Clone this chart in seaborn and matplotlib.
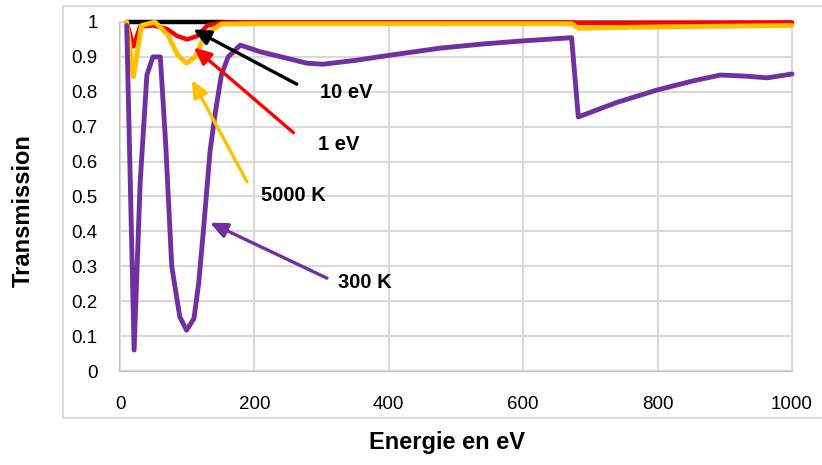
import seaborn as sns
import numpy as np
import matplotlib.pyplot as plt
from matplotlib.patches import Rectangle

# data
x_300K = [10, 21, 30, 40, 49, 60, 68, 77, 89, 99, 110, 117, 124, 134, 141, 151, 161, 179, 208, 240, 278, 302, 350, 402, 476, 540, 600, 672, 682, 740, 799, 850, 893, 930, 963, 1000]
y_300K = [0.99, 0.06, 0.54, 0.848, 0.9, 0.9, 0.65, 0.3, 0.155, 0.117, 0.15, 0.25, 0.4, 0.63, 0.73, 0.85, 0.9, 0.934, 0.915, 0.9, 0.882, 0.879, 0.89, 0.905, 0.925, 0.937, 0.946, 0.955, 0.728, 0.77, 0.805, 0.83, 0.848, 0.845, 0.84, 0.851]

x_5000K = [10, 20, 32, 52, 71, 86, 99, 112, 126, 151, 200, 400, 672, 682, 800, 1000]
y_5000K = [1.0, 0.843, 0.99, 1.0, 0.963, 0.905, 0.882, 0.9, 0.963, 0.994, 0.995, 0.995, 0.995, 0.982, 0.986, 0.99]

x_1eV = [10, 20, 30, 50, 70, 85, 100, 115, 130, 150, 200, 672, 682, 1000]
y_1eV = [1.0, 0.93, 0.987, 0.99, 0.98, 0.96, 0.95, 0.96, 0.99, 0.998, 0.999, 0.999, 0.997, 0.999]

x_10eV = [10, 150, 200, 672, 682, 1000]
y_10eV = [1.0, 1.0, 0.997, 0.997, 0.998, 0.997]

xticks = [0, 200, 400, 600, 800, 1000]
yticks = [0, 0.1, 0.2, 0.3, 0.4, 0.5, 0.6, 0.7, 0.8, 0.9, 1]
ytick_labels = ["0", "0.1", "0.2", "0.3", "0.4", "0.5", "0.6", "0.7", "0.8", "0.9", "1"]

sns.set_style("white")
plt.rcParams['font.family'] = ['Liberation Sans', 'DejaVu Sans']
plt.rcParams['text.color'] = 'black'
plt.rcParams['xtick.color'] = 'black'
plt.rcParams['ytick.color'] = 'black'

grid_col = "#D9D9D9"
purple = "#7030A0"
yellow = "#FFC000"

fig = plt.figure(figsize=(8.22, 4.65), dpi=100)
ax = fig.add_axes([120/822, 94/465, 672/822, 349/465])

# outer chart border
fig.patches.append(Rectangle((63/822, 47/465), 1.0, 412/465, transform=fig.transFigure,
                             fill=False, edgecolor=grid_col, lw=1.5, clip_on=False))

sns.lineplot(x=x_10eV, y=y_10eV, color="black", lw=3.2, ax=ax)
sns.lineplot(x=x_1eV, y=y_1eV, color="red", lw=3.2, ax=ax)
sns.lineplot(x=x_5000K, y=y_5000K, color=yellow, lw=3.5, ax=ax)
sns.lineplot(x=x_300K, y=y_300K, color=purple, lw=3.5, ax=ax)
for ln in ax.lines:
    ln.set_clip_on(False)
    ln.set_solid_joinstyle("round")

ax.set_xlim(0, 1000)
ax.set_ylim(0, 1)
ax.set_xticks(xticks)
ax.set_yticks(yticks)
ax.set_yticklabels(ytick_labels)
ax.tick_params(axis="x", length=0, pad=18, labelsize=13.5, labelcolor="black")
ax.tick_params(axis="y", length=0, pad=16, labelsize=13.5, labelcolor="black")
ax.grid(True, color=grid_col, lw=1.5)
ax.set_axisbelow(True)
for s in ax.spines.values():
    s.set_color(grid_col)
    s.set_linewidth(1.5)
    s.set_zorder(0.5)
ax.spines["left"].set_color("#BFBFBF")
ax.spines["bottom"].set_color("#BFBFBF")

# arrows and labels
arrows = [
    ((109, 0.979), (263, 0.822), "black", "10 eV", (336, 0.797)),
    ((110, 0.927), (258, 0.683), "red", "1 eV", (325, 0.648)),
    ((107, 0.834), (189, 0.542), yellow, "5000 K", (258, 0.504)),
    ((134, 0.425), (308, 0.266), purple, "300 K", (365, 0.255)),
]
for tip, tail, col, lab, pos in arrows:
    ax.annotate("", xy=tip, xytext=tail,
                arrowprops=dict(arrowstyle="-|>,head_length=0.6,head_width=0.27",
                                color=col, lw=2.4,
                                mutation_scale=17, shrinkA=0, shrinkB=0))
    ax.text(pos[0], pos[1], lab, fontsize=14.5, fontweight="bold",
            ha="center", va="center", color="black")

fig.text(23/822, 1 - 211/465, "Transmission", rotation=90, fontsize=17,
         fontweight="bold", ha="center", va="center", color="black")
fig.text(447/822, 1 - 442/465, "Energie en eV", fontsize=17,
         fontweight="bold", ha="center", va="center", color="black")

fig.savefig("out.png", dpi=100)
